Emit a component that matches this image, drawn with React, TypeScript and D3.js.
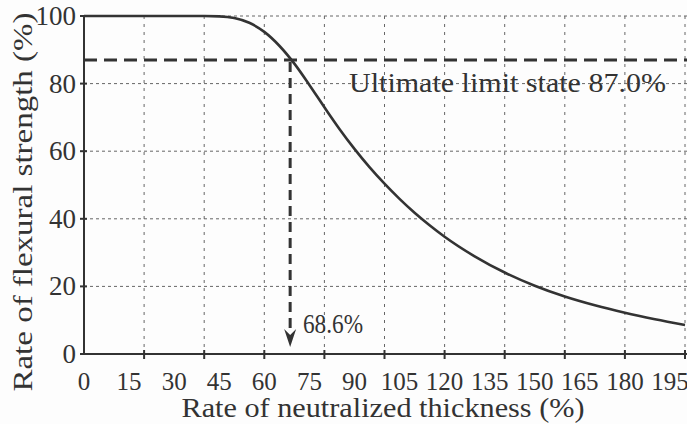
import React, { useEffect, useRef } from "react";
import * as d3 from "d3";

// curve
const neutralized = [0, 40, 45, 50, 55, 60, 65, 70, 75, 80, 85, 90, 95, 100, 105, 110, 115, 120, 130, 140, 150, 160, 170, 180, 190, 200];
const flexural = [100, 100, 99.9, 99.4, 98.0, 95.3, 91.2, 85.9, 79.6, 73.0, 66.6, 60.7, 55.3, 50.4, 45.9, 41.8, 38.1, 34.7, 28.9, 24.1, 20.2, 17.0, 14.4, 12.2, 10.3, 8.6];

const xTickLabels = [0, 15, 30, 45, 60, 75, 90, 105, 120, 135, 150, 165, 180, 195];
const xGrid = [20, 40, 60, 80, 100, 120, 140, 160, 180, 200];
const yTicks = [0, 20, 40, 60, 80, 100];

const limitState = 87.0;
const limitThickness = 68.6;

const ink = "#333";
const serif = "'Liberation Serif', 'DejaVu Serif', serif";

export default function App() {
  const ref = useRef<SVGSVGElement>(null);

  useEffect(() => {
    const svg = d3.select(ref.current);
    svg.selectAll("*").remove();

    const width = 687;
    const height = 424;

    const x = d3.scaleLinear().domain([0, 200]).range([84, 685]);
    const y = d3.scaleLinear().domain([0, 100]).range([354, 16]);

    svg.append("rect").attr("width", width).attr("height", height).attr("fill", "#fdfdfd");

    // grid
    svg.append("g")
      .selectAll("line")
      .data(yTicks.filter(d => d > 0))
      .enter()
      .append("line")
      .attr("x1", x(0))
      .attr("x2", width)
      .attr("y1", d => y(d))
      .attr("y2", d => y(d))
      .attr("stroke", "#666")
      .attr("stroke-width", 1)
      .attr("stroke-dasharray", "3 3");

    svg.append("g")
      .selectAll("line")
      .data(xGrid)
      .enter()
      .append("line")
      .attr("x1", d => x(d))
      .attr("x2", d => x(d))
      .attr("y1", y(100))
      .attr("y2", y(0))
      .attr("stroke", "#666")
      .attr("stroke-width", 1)
      .attr("stroke-dasharray", "3 5");

    // axes
    svg.append("line")
      .attr("x1", x(0)).attr("x2", x(0))
      .attr("y1", y(100)).attr("y2", y(0))
      .attr("stroke", ink).attr("stroke-width", 2);
    svg.append("line")
      .attr("x1", x(0)).attr("x2", width)
      .attr("y1", y(0)).attr("y2", y(0))
      .attr("stroke", ink).attr("stroke-width", 2);

    svg.append("g")
      .selectAll("line")
      .data(yTicks)
      .enter()
      .append("line")
      .attr("x1", x(0) - 4)
      .attr("x2", x(0) + 3)
      .attr("y1", d => y(d))
      .attr("y2", d => y(d))
      .attr("stroke", ink)
      .attr("stroke-width", 2);

    svg.append("g")
      .selectAll("line")
      .data(xGrid)
      .enter()
      .append("line")
      .attr("x1", d => x(d))
      .attr("x2", d => x(d))
      .attr("y1", y(0) - 4)
      .attr("y2", y(0) + 5)
      .attr("stroke", ink)
      .attr("stroke-width", 2);

    // tick labels
    svg.append("g")
      .selectAll("text")
      .data(yTicks)
      .enter()
      .append("text")
      .attr("x", 76)
      .attr("y", d => y(d) + 9)
      .attr("text-anchor", "end")
      .attr("font-family", serif)
      .attr("font-size", 27)
      .attr("fill", ink)
      .text(d => d);

    svg.append("g")
      .selectAll("text")
      .data(xTickLabels)
      .enter()
      .append("text")
      .attr("x", d => x(d))
      .attr("y", 390)
      .attr("text-anchor", "middle")
      .attr("font-family", serif)
      .attr("font-size", 25)
      .attr("fill", ink)
      .text(d => d);

    // ultimate limit state line
    svg.append("line")
      .attr("x1", x(0)).attr("x2", width)
      .attr("y1", y(limitState)).attr("y2", y(limitState))
      .attr("stroke", ink)
      .attr("stroke-width", 3)
      .attr("stroke-dasharray", "13 7");

    svg.append("line")
      .attr("x1", x(limitThickness)).attr("x2", x(limitThickness))
      .attr("y1", y(limitState) + 2).attr("y2", y(0) - 22)
      .attr("stroke", ink)
      .attr("stroke-width", 3)
      .attr("stroke-dasharray", "10 6");

    const ax = x(limitThickness);
    const tipY = y(0) - 7;
    svg.append("path")
      .attr("d", `M${ax - 6},${tipY - 18} L${ax},${tipY - 12} L${ax + 6},${tipY - 18} L${ax},${tipY} Z`)
      .attr("fill", ink);

    // curve
    const line = d3.line<number>()
      .x((d, i) => x(neutralized[i]))
      .y(d => y(d))
      .curve(d3.curveMonotoneX);

    svg.append("path")
      .datum(flexural)
      .attr("d", line)
      .attr("fill", "none")
      .attr("stroke", ink)
      .attr("stroke-width", 2.6);

    // annotations
    svg.append("text")
      .attr("x", 349)
      .attr("y", 92)
      .attr("font-family", serif)
      .attr("font-size", 27)
      .attr("textLength", 317)
      .attr("lengthAdjust", "spacingAndGlyphs")
      .attr("fill", ink)
      .text(`Ultimate limit state ${limitState.toFixed(1)}%`);

    svg.append("text")
      .attr("x", 303)
      .attr("y", 333)
      .attr("font-family", serif)
      .attr("font-size", 27)
      .attr("textLength", 60)
      .attr("lengthAdjust", "spacingAndGlyphs")
      .attr("fill", ink)
      .text(`${limitThickness}%`);

    // axis titles
    svg.append("text")
      .attr("x", 383)
      .attr("y", 417)
      .attr("text-anchor", "middle")
      .attr("font-family", serif)
      .attr("font-size", 28)
      .attr("textLength", 403)
      .attr("lengthAdjust", "spacingAndGlyphs")
      .attr("fill", ink)
      .text("Rate of neutralized thickness (%)");

    svg.append("text")
      .attr("transform", "translate(32,202) rotate(-90)")
      .attr("text-anchor", "middle")
      .attr("font-family", serif)
      .attr("font-size", 28)
      .attr("textLength", 379)
      .attr("lengthAdjust", "spacingAndGlyphs")
      .attr("fill", ink)
      .text("Rate of flexural strength (%)");
  }, []);

  return (
    <svg
      ref={ref}
      width={687}
      height={424}
      style={{ position: "absolute", left: 0, top: 0, display: "block" }}
    />
  );
}
